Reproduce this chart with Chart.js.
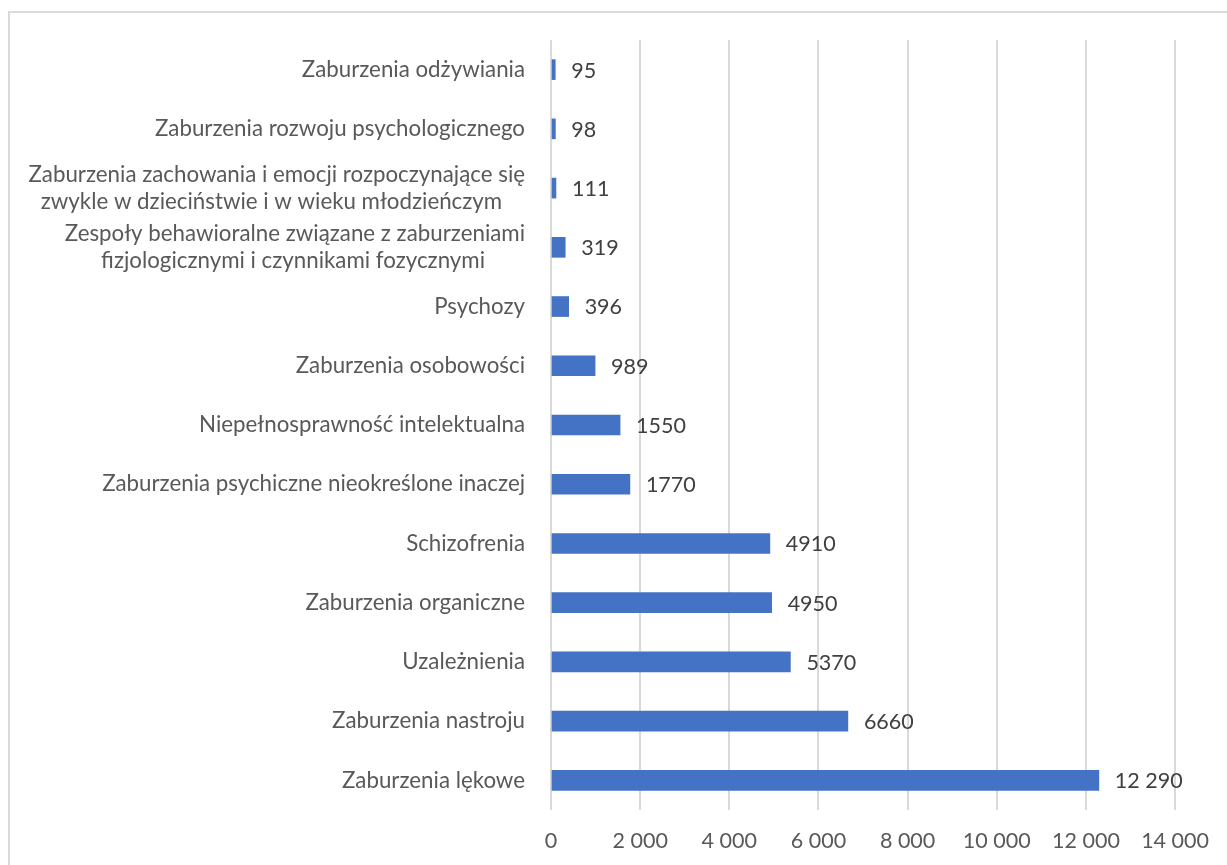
<!DOCTYPE html>
<html><head><meta charset="utf-8">
<script src="https://cdn.jsdelivr.net/npm/chart.js@4"></script>
<style>
html,body{margin:0;padding:0;background:#fff;}
#wrap{position:absolute;left:0;top:0;width:1227px;height:865px;}
#frame{position:absolute;left:8px;top:11px;width:1260px;height:900px;border:2px solid #d9d9d9;box-sizing:border-box;}
</style></head>
<body>
<div id="frame"></div>
<div id="wrap"><canvas id="c" width="1227" height="865"></canvas></div>
<script>
const categories = [
  "Zaburzenia odżywiania",
  "Zaburzenia rozwoju psychologicznego",
  ["Zaburzenia zachowania i emocji rozpoczynające się", "zwykle w dzieciństwie i w wieku młodzieńczym    "],
  ["Zespoły behawioralne związane z zaburzeniami", "fizjologicznymi i czynnikami fozycznymi       "],
  "Psychozy",
  "Zaburzenia osobowości",
  "Niepełnosprawność intelektualna",
  "Zaburzenia psychiczne nieokreślone inaczej",
  "Schizofrenia",
  "Zaburzenia organiczne",
  "Uzależnienia",
  "Zaburzenia nastroju",
  "Zaburzenia lękowe"
];
const values = [95, 98, 111, 319, 396, 989, 1550, 1770, 4910, 4950, 5370, 6660, 12290];
const xMin = 0, xMax = 14000, xStep = 2000;

function group(v){ return String(v).replace(/\B(?=(\d{3})+(?!\d))/g, ' '); }
function labelFmt(v){ return v >= 10000 ? group(v) : String(v); }

const FONT = "Lato, 'Open Sans', sans-serif";
const FS = 21.5;
const FS_CAT = 22.3;

const valueLabels = {
  id: 'valueLabels',
  afterDatasetsDraw(chart){
    const ctx = chart.ctx;
    const meta = chart.getDatasetMeta(0);
    ctx.save();
    ctx.font = FS + "px " + FONT;
    ctx.fillStyle = "#404040";
    ctx.textAlign = "left";
    ctx.textBaseline = "middle";
    meta.data.forEach((bar, i) => {
      ctx.fillText(labelFmt(values[i]), bar.x + 16, bar.y + 1);
    });
    ctx.restore();
  }
};

new Chart(document.getElementById('c'), {
  type: 'bar',
  data: {
    labels: categories,
    datasets: [{
      data: values,
      backgroundColor: '#4472C4',
      borderWidth: 0,
      barThickness: 20
    }]
  },
  options: {
    indexAxis: 'y',
    responsive: false,
    animation: false,
    devicePixelRatio: 1,
    layout: { padding: { top: 40, right: 50, left: 0, bottom: 0 } },
    plugins: { legend: { display: false }, tooltip: { enabled: false } },
    scales: {
      x: {
        min: xMin, max: xMax,
        ticks: { stepSize: xStep, color: '#595959', font: { family: FONT, size: FS }, padding: 18,
                 callback: v => group(v) },
        grid: { color: '#d9d9d9', lineWidth: 2, drawTicks: false },
        border: { display: false },
        afterFit: s => { s.height = 55; }
      },
      y: {
        ticks: { color: '#595959', font: { family: FONT, size: FS_CAT, lineHeight: 1.2 }, padding: 26, autoSkip: false },
        grid: { display: false, drawTicks: false },
        border: { display: false },
        afterFit: s => { s.width = 551; }
      }
    }
  },
  plugins: [valueLabels]
});
</script>
</body></html>
